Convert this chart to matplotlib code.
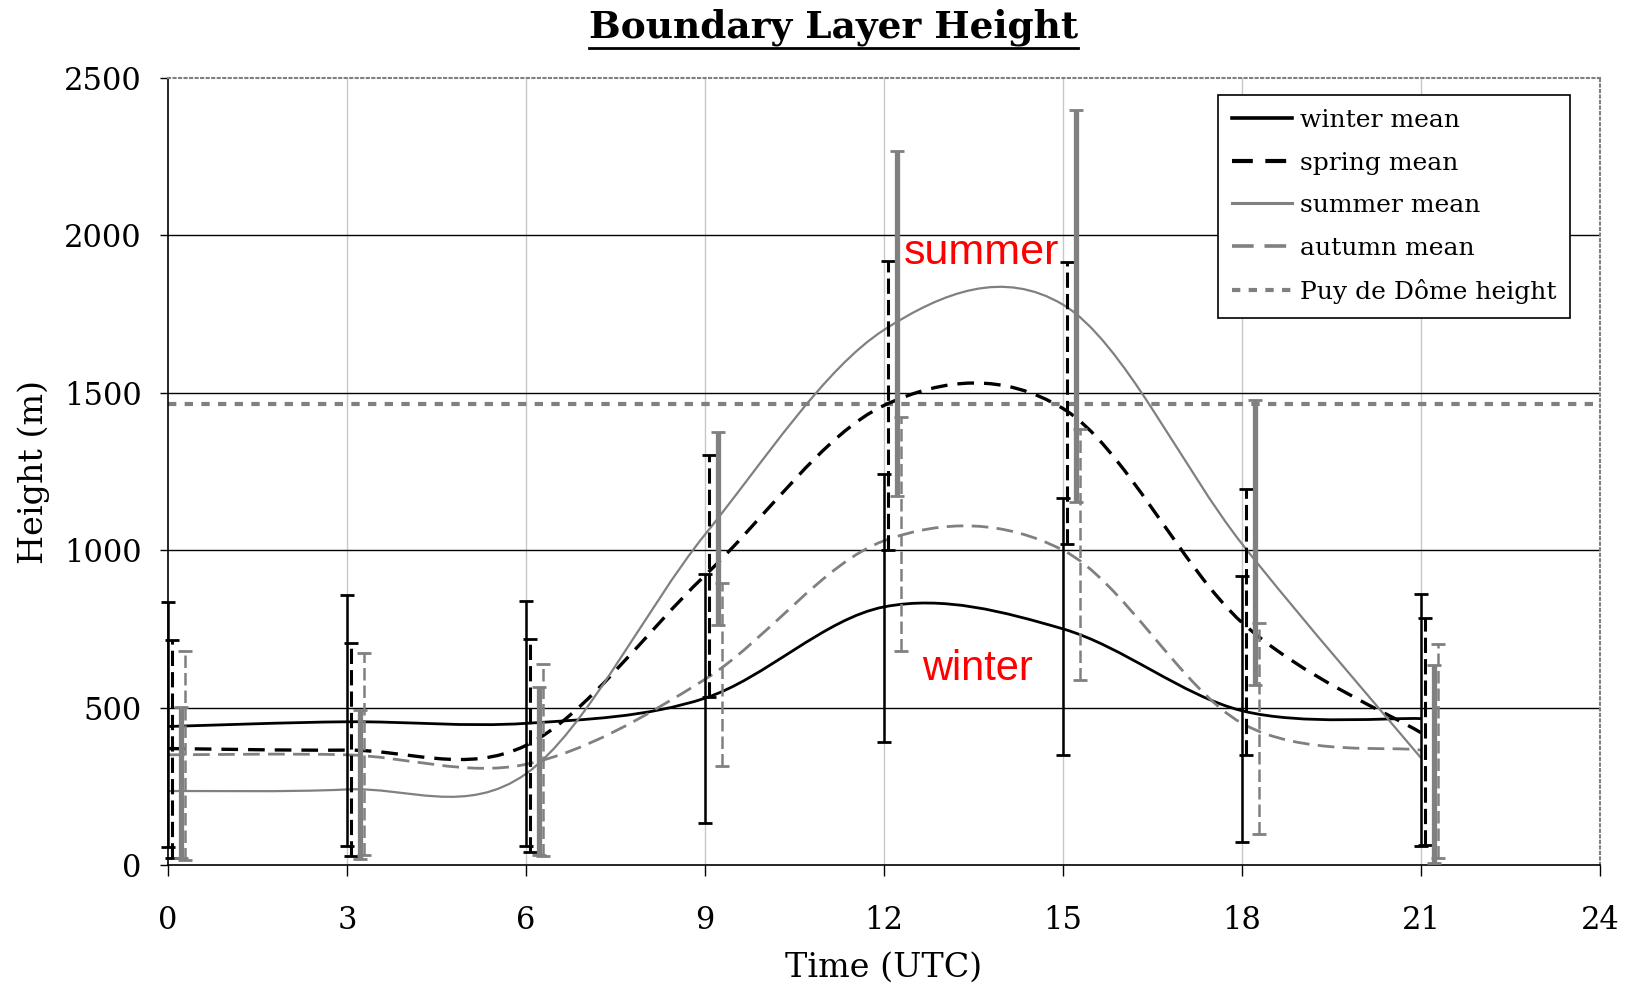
import matplotlib
matplotlib.use("Agg")
import matplotlib.pyplot as plt
from matplotlib.path import Path
from matplotlib.patches import PathPatch
from matplotlib.lines import Line2D

# time of day (UTC) of the radiosonde means
hours = [0, 3, 6, 9, 12, 15, 18, 21]

# seasonal mean boundary layer height (m)
winter_mean = [440, 455, 450, 530, 820, 750, 490, 465]
spring_mean = [370, 365, 380, 920, 1460, 1450, 770, 420]
summer_mean = [235, 240, 290, 1050, 1700, 1780, 1020, 340]
autumn_mean = [350, 350, 320, 590, 1030, 1000, 450, 365]

# ends of the error bars (m)
winter_low = [57, 60, 60, 132, 391, 348, 73, 60]
winter_high = [834, 858, 840, 924, 1242, 1166, 917, 861]
spring_low = [23, 28, 40, 533, 1000, 1020, 350, 64]
spring_high = [715, 705, 718, 1301, 1920, 1917, 1195, 785]
summer_low = [22, 20, 32, 763, 1173, 1153, 572, 5]
summer_high = [502, 492, 567, 1374, 2268, 2400, 1477, 635]
autumn_low = [17, 33, 30, 315, 679, 589, 100, 23]
autumn_high = [679, 672, 640, 896, 1424, 1386, 769, 702]

puy_de_dome = 1465

SERIF = "DejaVu Serif"
GREY = "#808080"


def smooth_path(x, y):
    # excel style smoothed line: cubic bezier through the points
    n = len(x)
    verts = [(x[0], y[0])]
    codes = [Path.MOVETO]
    for i in range(n - 1):
        ip = max(i - 1, 0)
        inx = min(i + 2, n - 1)
        c1 = (x[i] + (x[i + 1] - x[ip]) / 6.0, y[i] + (y[i + 1] - y[ip]) / 6.0)
        c2 = (x[i + 1] - (x[inx] - x[i]) / 6.0, y[i + 1] - (y[inx] - y[i]) / 6.0)
        verts += [c1, c2, (x[i + 1], y[i + 1])]
        codes += [Path.CURVE4] * 3
    return Path(verts, codes)


fig = plt.figure(figsize=(16.35, 9.88), dpi=100)
ax = fig.add_axes([0.1028, 0.1245, 0.8758, 0.7965])

# grid
for h in range(3, 24, 3):
    ax.axvline(h, color="#c8c8c8", lw=1, zorder=0)
for v in [500, 1000, 1500, 2000]:
    ax.axhline(v, color="black", lw=1, zorder=0)

series = [
    ("winter mean", winter_mean, winter_low, winter_high, "black", "-", 2.0, 0.0, 1.8, "-"),
    ("spring mean", spring_mean, spring_low, spring_high, "black", (0, (5, 3)), 2.4, 0.07, 2.2, (0, (5, 2))),
    ("summer mean", summer_mean, summer_low, summer_high, GREY, "-", 1.6, 0.22, 3.8, "-"),
    ("autumn mean", autumn_mean, autumn_low, autumn_high, GREY, (0, (6, 3)), 2.0, 0.28, 1.8, (0, (5, 2))),
]

handles = []
for name, mean, low, high, col, ls, lw, off, elw, els in series:
    patch = PathPatch(smooth_path(hours, mean), fill=False, edgecolor=col,
                      linestyle=ls, lw=lw, zorder=3)
    ax.add_patch(patch)
    xs = [h + off for h in hours]
    yerr = [[m - l for m, l in zip(mean, low)], [u - m for m, u in zip(mean, high)]]
    eb = ax.errorbar(xs, mean, yerr=yerr, fmt="none", ecolor=col, elinewidth=elw,
                     capsize=5, capthick=2, zorder=4, clip_on=False)
    for lc in eb[2]:
        lc.set_linestyle(els)
    handles.append(Line2D([], [], color=col, ls=ls, lw=lw + 0.6, label=name))

ax.axhline(puy_de_dome, color=GREY, ls=(0, (2, 2)), lw=3, zorder=2)
handles.append(Line2D([], [], color=GREY, ls=(0, (2, 2)), lw=3, label="Puy de Dôme height"))

ax.set_xlim(0, 24)
ax.set_ylim(0, 2500)
ax.set_xticks(range(0, 25, 3))
ax.set_yticks(range(0, 2501, 500))
ax.tick_params(axis="x", direction="out", length=8, width=1, pad=21, labelsize=22)
ax.tick_params(axis="y", direction="out", length=6, width=1, pad=13, labelsize=22)
for lab in ax.get_xticklabels() + ax.get_yticklabels():
    lab.set_fontfamily(SERIF)

for s in ["top", "right"]:
    ax.spines[s].set_linestyle(":")
    ax.spines[s].set_color(GREY)
    ax.spines[s].set_linewidth(1.5)
ax.spines["left"].set_linewidth(1.2)
ax.spines["bottom"].set_linewidth(1.2)

ax.set_xlabel("Time (UTC)", fontsize=24, family=SERIF)
ax.set_ylabel("Height (m)", fontsize=24, family=SERIF)
ax.xaxis.label.set_va("center")
ax.yaxis.label.set_va("center")
ax.xaxis.set_label_coords(0.5, -0.13)
ax.yaxis.set_label_coords(-0.094, 0.5)

leg = ax.legend(handles=handles, loc="upper right", bbox_to_anchor=(0.979, 0.978),
                borderaxespad=0, fancybox=False, framealpha=1, edgecolor="black",
                prop={"family": SERIF, "size": 18}, handlelength=2.4,
                labelspacing=0.78, handletextpad=0.3, borderpad=0.55)
leg.get_frame().set_linewidth(1.2)

ax.text(13.63, 1944, "summer", color="red", fontsize=31, family="Liberation Sans",
        ha="center", va="center", zorder=5)
ax.text(13.57, 622, "winter", color="red", fontsize=30, family="Liberation Sans",
        ha="center", va="center", zorder=5)

title = fig.text(0.51, 0.972, "Boundary Layer Height", ha="center", va="center",
                 fontsize=27, fontweight="bold", family=SERIF)
fig.canvas.draw()
bb = title.get_window_extent()
W, H = fig.bbox.width, fig.bbox.height
fig.add_artist(Line2D([bb.x0 / W, bb.x1 / W], [(bb.y0 - 2) / H] * 2,
                      transform=fig.transFigure, color="black", lw=2))

fig.savefig("out.png", dpi=100)
